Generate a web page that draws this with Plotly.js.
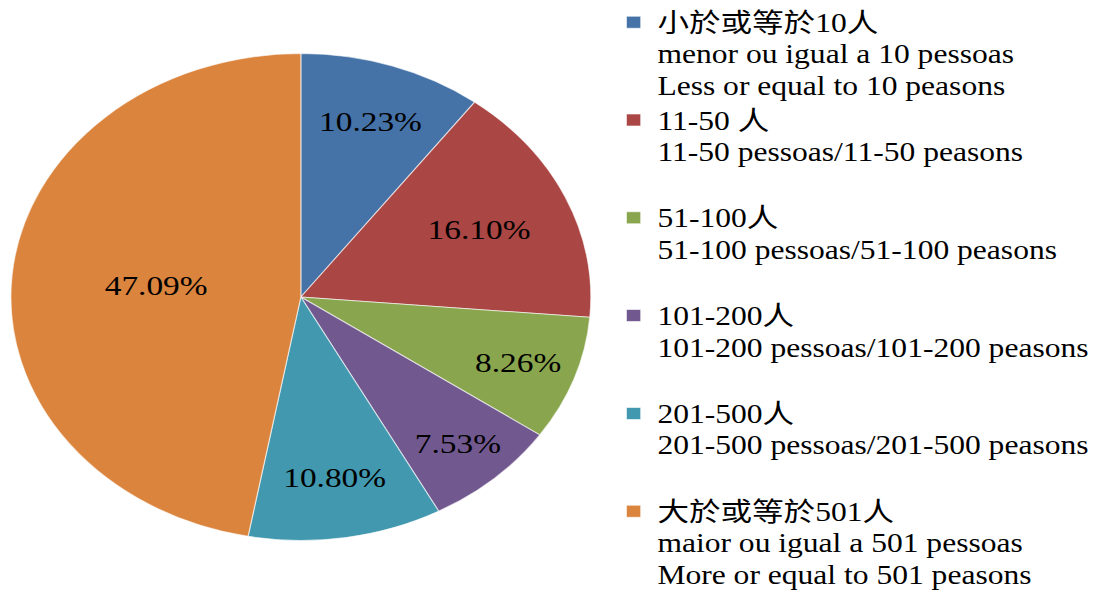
<!DOCTYPE html>
<html><head><meta charset="utf-8">
<script src="https://cdn.plot.ly/plotly-3.0.1.min.js"></script>
<style>
html,body{margin:0;padding:0;overflow:hidden;background:#fff;}
#wrap{width:1096px;height:592px;overflow:hidden;}
#chart{width:920px;height:592px;transform:scaleX(1.1913);transform-origin:0 0;}
</style></head><body><div id="wrap"><div id="chart"></div></div>
<script>
const categoriesZh = ["小於或等於10人", "11-50 人", "51-100人", "101-200人", "201-500人", "大於或等於501人"];
const categoriesPt = ["menor ou igual a 10 pessoas", "11-50 pessoas/11-50 peasons", "51-100 pessoas/51-100 peasons", "101-200 pessoas/101-200 peasons", "201-500 pessoas/201-500 peasons", "maior ou igual a 501 pessoas"];
const categoriesEn = ["Less or equal to 10 peasons", "", "", "", "", "More or equal to 501 peasons"];
const shares = [10.23, 16.10, 8.26, 7.53, 10.80, 47.09];
const colors = ["#4572A7", "#AA4643", "#89A54E", "#71588F", "#4198AF", "#DB843D"];

const labels = categoriesZh.map((z, i) => {
  const lines = [z, categoriesPt[i], categoriesEn[i] === "" ? " " : categoriesEn[i]];
  return lines.map(l => '<span style="font-size:26.5px">' + l + '</span>').join('<br>');
});

const serif = "'Liberation Serif', 'Times New Roman', 'Noto Sans CJK TC', serif";

const trace = {
  type: 'pie',
  labels: labels,
  values: shares,
  sort: false,
  direction: 'clockwise',
  rotation: 0,
  marker: {colors: colors, line: {color: 'rgba(255,255,255,0.6)', width: 1}},
  texttemplate: '%{value:.2f}%',
  textposition: 'inside',
  insidetextorientation: 'horizontal',
  textfont: {family: serif, size: 28, color: '#000'},
  hoverinfo: 'label+percent',
  domain: {x: [0.0100, 0.5426], y: [0.0845, 0.9122]}
};

const layout = {
  width: 920, height: 592,
  margin: {l: 0, r: 0, t: 0, b: 0},
  paper_bgcolor: '#fff',
  showlegend: true,
  font: {family: serif},
  legend: {
    x: 0.56, y: 0.997, xanchor: 'left', yanchor: 'top',
    valign: 'top',
    font: {family: serif, size: 24.3, color: '#000'},
    bgcolor: 'rgba(0,0,0,0)'
  }
};

Plotly.newPlot('chart', [trace], layout, {displayModeBar: false, staticPlot: true});
</script></body></html>
